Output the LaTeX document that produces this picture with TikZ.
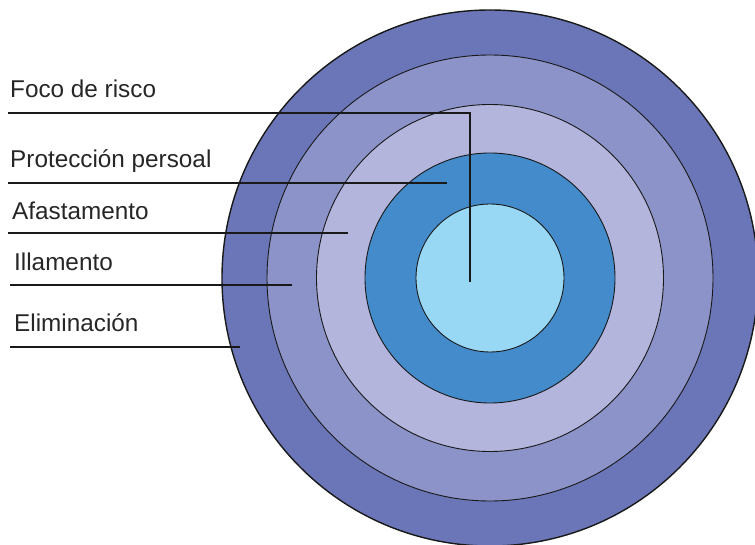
\documentclass[tikz,border=0pt]{standalone}
\usepackage{fontspec}
\setmainfont{Liberation Sans}
\definecolor{ringA}{RGB}{106,118,184}
\definecolor{ringB}{RGB}{140,147,201}
\definecolor{ringC}{RGB}{179,181,221}
\definecolor{ringD}{RGB}{68,139,203}
\definecolor{ringE}{RGB}{152,216,245}
\begin{document}
\begin{tikzpicture}[x=1pt,y=-1pt,
  ring/.style={circle,draw=black!90,line width=0.9pt,inner sep=0pt,minimum size=#1},
  lab/.style={anchor=base west,inner sep=0pt,font=\fontsize{24.3}{28}\selectfont,text=black!85},
  leader/.style={draw=black!90,line width=1.8pt}]
\useasboundingbox (0,0) rectangle (755,545);
\node[ring=536pt,fill=ringA,line width=1.4pt] (c1) at (490,278) {};
\node[ring=446pt,fill=ringB] (c2) at (490,278) {};
\node[ring=347pt,fill=ringC] (c3) at (490,278) {};
\node[ring=250pt,fill=ringD] (c4) at (490,278) {};
\node[ring=148pt,fill=ringE] (c5) at (490,278) {};
\node[lab] (l1) at (10,98) {Foco de risco};
\node[lab] (l2) at (10,168) {Protección persoal};
\node[lab] (l3) at (12,220) {Afastamento};
\node[lab] (l4) at (14,271) {Illamento};
\node[lab] (l5) at (14,331) {Eliminación};
\coordinate (s1) at (8,113);
\coordinate (k1) at (470,113);
\coordinate (e1) at (470,282);
\coordinate (s2) at (8,183);
\coordinate (e2) at (447,183);
\coordinate (s3) at (8,233);
\coordinate (e3) at (348,233);
\coordinate (s4) at (10,285);
\coordinate (e4) at (292,285);
\coordinate (s5) at (10,347);
\coordinate (e5) at (240,347);
\draw[leader] (s1) -- (k1) -- (e1);
\draw[leader] (s2) -- (e2);
\draw[leader] (s3) -- (e3);
\draw[leader] (s4) -- (e4);
\draw[leader] (s5) -- (e5);
\end{tikzpicture}
\end{document}
